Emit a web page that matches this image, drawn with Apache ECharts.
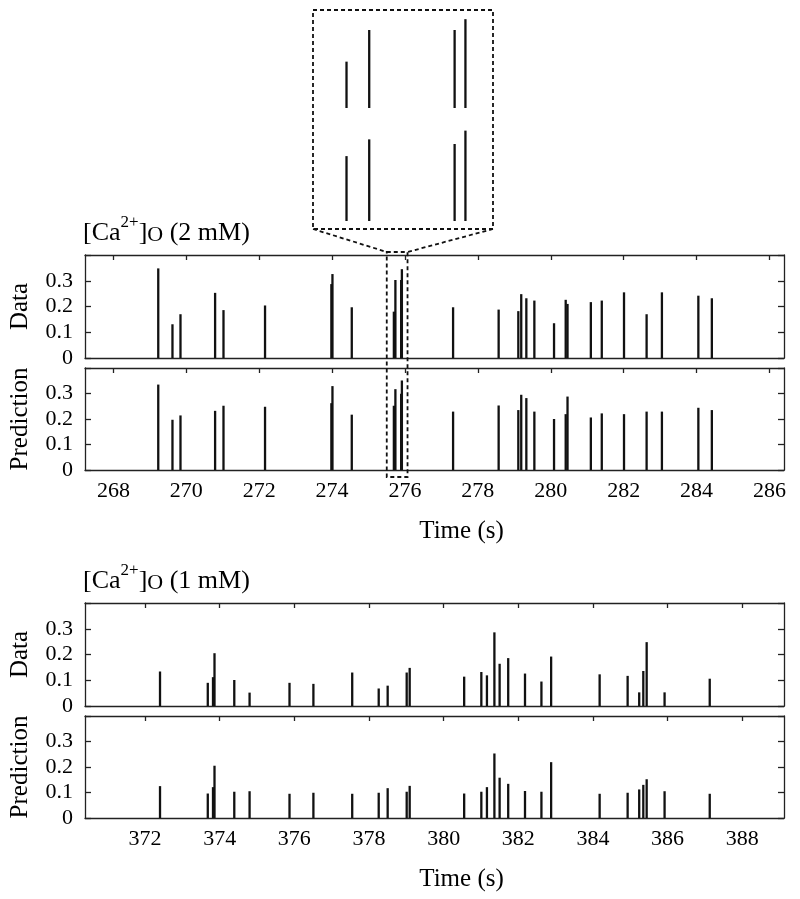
<!DOCTYPE html>
<html>
<head>
<meta charset="utf-8">
<script src="https://cdn.jsdelivr.net/npm/echarts@6/dist/echarts.min.js"></script>
<style>html,body{margin:0;padding:0;background:#fff}#c{width:800px;height:899px}</style>
</head>
<body>
<div id="c"></div>
<script>
// ---- data: [Ca2+]o 2 mM ----
const topTimes = [269.23, 269.62, 269.84, 270.79, 271.02, 272.16, 273.98, 274.01, 274.54, 275.695, 275.737, 275.895, 275.915, 277.32, 278.57, 279.11, 279.19, 279.33, 279.55, 280.09, 280.41, 280.46, 281.10, 281.40, 282.01, 282.63, 283.05, 284.05, 284.42];
const topData = [0.348, 0.131, 0.170, 0.253, 0.186, 0.204, 0.287, 0.326, 0.197, 0.180, 0.303, 0.303, 0.345, 0.197, 0.188, 0.182, 0.248, 0.232, 0.223, 0.135, 0.226, 0.210, 0.217, 0.223, 0.255, 0.170, 0.255, 0.242, 0.232];
const topPred = [0.335, 0.197, 0.214, 0.232, 0.252, 0.248, 0.262, 0.329, 0.217, 0.252, 0.317, 0.299, 0.351, 0.229, 0.253, 0.235, 0.295, 0.282, 0.229, 0.200, 0.219, 0.288, 0.206, 0.222, 0.219, 0.229, 0.229, 0.244, 0.235];
// ---- data: [Ca2+]o 1 mM ----
const botTimes = [372.40, 373.68, 373.82, 373.86, 374.39, 374.80, 375.87, 376.51, 377.55, 378.26, 378.50, 379.01, 379.09, 380.55, 381.01, 381.16, 381.36, 381.50, 381.73, 382.18, 382.62, 382.88, 384.18, 384.93, 385.24, 385.35, 385.44, 385.92, 387.13];
const botData = [0.134, 0.090, 0.112, 0.205, 0.101, 0.052, 0.090, 0.086, 0.130, 0.068, 0.079, 0.130, 0.148, 0.114, 0.132, 0.119, 0.286, 0.164, 0.186, 0.126, 0.095, 0.192, 0.123, 0.117, 0.053, 0.136, 0.248, 0.053, 0.106];
const botPred = [0.125, 0.096, 0.121, 0.205, 0.103, 0.105, 0.095, 0.099, 0.095, 0.099, 0.117, 0.103, 0.126, 0.096, 0.103, 0.121, 0.253, 0.158, 0.134, 0.106, 0.103, 0.219, 0.095, 0.099, 0.112, 0.130, 0.152, 0.105, 0.095];
// ---- tick labels ----
const topXTicks = [268, 270, 272, 274, 276, 278, 280, 282, 284, 286];
const botXTicks = [372, 374, 376, 378, 380, 382, 384, 386, 388];
const yTicks = [0, 0.1, 0.2, 0.3, 0.4];
const panelNames = ['Data', 'Prediction'];
const xTitle = 'Time (s)';
const conc = ['2 mM', '1 mM'];
// axis ranges
const topRange = [267.22, 286.40];
const botRange = [370.39, 389.12];
const insetRange = [275.633, 275.966];   // magnified window shown in the inset
const zoomWindow = [275.50, 276.07];     // dashed window drawn on the panels

const FONT = '"Liberation Serif", "DejaVu Serif", serif';
const INK = '#000';

const chart = echarts.init(document.getElementById('c'));

const mains = [
  {top: 255, height: 103, range: topRange, ticks: topXTicks, labels: false, name: panelNames[0], vals: topData, times: topTimes},
  {top: 368, height: 102, range: topRange, ticks: topXTicks, labels: true, name: panelNames[1], vals: topPred, times: topTimes},
  {top: 603, height: 103, range: botRange, ticks: botXTicks, labels: false, name: panelNames[0], vals: botData, times: botTimes},
  {top: 716, height: 102, range: botRange, ticks: botXTicks, labels: true, name: panelNames[1], vals: botPred, times: botTimes}
];
const insets = [
  {top: 5, height: 103, vals: topData},
  {top: 118, height: 103, vals: topPred}
];

const grids = [], xAxes = [], yAxes = [], series = [];
function spike(params, api) {
  const p0 = api.coord([api.value(0), 0]);
  const p1 = api.coord([api.value(0), api.value(1)]);
  return {type: 'line', shape: {x1: p0[0], y1: p0[1], x2: p1[0], y2: p1[1]},
          style: {stroke: '#111', lineWidth: 2.3}};
}
const lineStyle = {color: '#222', width: 1.3};
mains.forEach((m, i) => {
  grids.push({left: 85, right: 16, top: m.top, height: m.height});
});
insets.forEach(m => grids.push({left: 313, width: 180, top: m.top, height: m.height}));

// bottom x axes
mains.forEach((m, i) => {
  xAxes.push({type: 'value', gridIndex: i, position: 'bottom', min: m.range[0], max: m.range[1],
    axisLine: {show: true, onZero: false, lineStyle},
    axisTick: {show: false}, splitLine: {show: false},
    axisLabel: {show: m.labels, customValues: m.ticks, margin: 10, color: INK, fontFamily: FONT, fontSize: 22,
      formatter: v => String(v)},
    name: m.labels ? xTitle : '', nameLocation: 'middle', nameGap: 49,
    nameTextStyle: {fontFamily: FONT, fontSize: 25, color: INK, padding: [0, 0, 0, 54]}
  });
});
// top x axes (ticks only)
mains.forEach((m, i) => {
  xAxes.push({type: 'value', gridIndex: i, position: 'top', min: m.range[0], max: m.range[1],
    axisLine: {show: true, onZero: false, lineStyle},
    axisTick: {show: true, inside: true, length: 5, customValues: m.ticks, lineStyle},
    axisLabel: {show: false}, splitLine: {show: false}
  });
});
// inset x axes
insets.forEach((m, j) => {
  xAxes.push({type: 'value', gridIndex: 4 + j, min: insetRange[0], max: insetRange[1], show: false});
});
// left y axes
mains.forEach((m, i) => {
  yAxes.push({type: 'value', gridIndex: i, position: 'left', min: 0, max: 0.4,
    axisLine: {show: true, onZero: false, lineStyle},
    axisTick: {show: true, inside: true, length: 6, customValues: yTicks, lineStyle},
    axisLabel: {customValues: yTicks.slice(0, 4), margin: 12, color: INK, fontFamily: FONT, fontSize: 22,
      formatter: v => String(Math.round(v * 10) / 10)},
    splitLine: {show: false},
    name: m.name, nameLocation: 'middle', nameRotate: 90, nameGap: 52,
    nameTextStyle: {fontFamily: FONT, fontSize: 25, color: INK}
  });
});
// right y axes (ticks only)
mains.forEach((m, i) => {
  yAxes.push({type: 'value', gridIndex: i, position: 'right', min: 0, max: 0.4,
    axisLine: {show: true, onZero: false, lineStyle},
    axisTick: {show: true, inside: true, length: 6, customValues: yTicks, lineStyle},
    axisLabel: {show: false}, splitLine: {show: false}
  });
});
insets.forEach((m, j) => {
  yAxes.push({type: 'value', gridIndex: 4 + j, min: 0, max: 0.4, show: false});
});

mains.forEach((m, i) => {
  series.push({type: 'custom', xAxisIndex: i, yAxisIndex: i, clip: true, silent: true,
    renderItem: spike, data: m.times.map((t, k) => [t, m.vals[k]])});
});
insets.forEach((m, j) => {
  series.push({type: 'custom', xAxisIndex: 8 + j, yAxisIndex: 8 + j, clip: true, silent: true,
    renderItem: spike, data: topTimes.map((t, k) => [t, m.vals[k]])});
});

function caTitle(txt, y) {
  return {type: 'text', left: 83, top: y, z: 10,
    style: {
      text: '{a|[Ca}{sup|2+}{a|]}{sub|O}{a| (' + txt + ')}',
      rich: {
        a: {fontFamily: FONT, fontSize: 26, fill: INK, lineHeight: 32, verticalAlign: 'bottom'},
        sup: {fontFamily: FONT, fontSize: 17, fill: INK, lineHeight: 32, verticalAlign: 'top'},
        sub: {fontFamily: FONT, fontSize: 22, fill: INK, lineHeight: 32, verticalAlign: 'bottom', padding: [9, 0, 0, 0]}
      }
    }};
}

chart.setOption({
  animation: false,
  backgroundColor: '#fff',
  grid: grids, xAxis: xAxes, yAxis: yAxes, series: series,
  graphic: [caTitle(conc[0], 214), caTitle(conc[1], 562)]
});

// dashed annotation window + inset frame + connectors
const xl = chart.convertToPixel({xAxisIndex: 0}, zoomWindow[0]);
const xr = chart.convertToPixel({xAxisIndex: 0}, zoomWindow[1]);
const yTop = mains[0].top - 3;
const yBot = mains[1].top + mains[1].height + 7;
const ix0 = 313, ix1 = 493, iy0 = 10, iy1 = 229;
const dash = {stroke: '#111', lineWidth: 1.8, lineDash: [4, 3], fill: null};
chart.setOption({
  graphic: [caTitle(conc[0], 214), caTitle(conc[1], 562),
    {type: 'rect', shape: {x: xl, y: yTop, width: xr - xl, height: yBot - yTop}, style: dash, z: 20},
    {type: 'rect', shape: {x: ix0, y: iy0, width: ix1 - ix0, height: iy1 - iy0}, style: dash, z: 20},
    {type: 'line', shape: {x1: ix0, y1: iy1, x2: xl, y2: yTop}, style: dash, z: 20},
    {type: 'line', shape: {x1: ix1, y1: iy1, x2: xr, y2: yTop}, style: dash, z: 20}
  ]
});
</script>
</body>
</html>
